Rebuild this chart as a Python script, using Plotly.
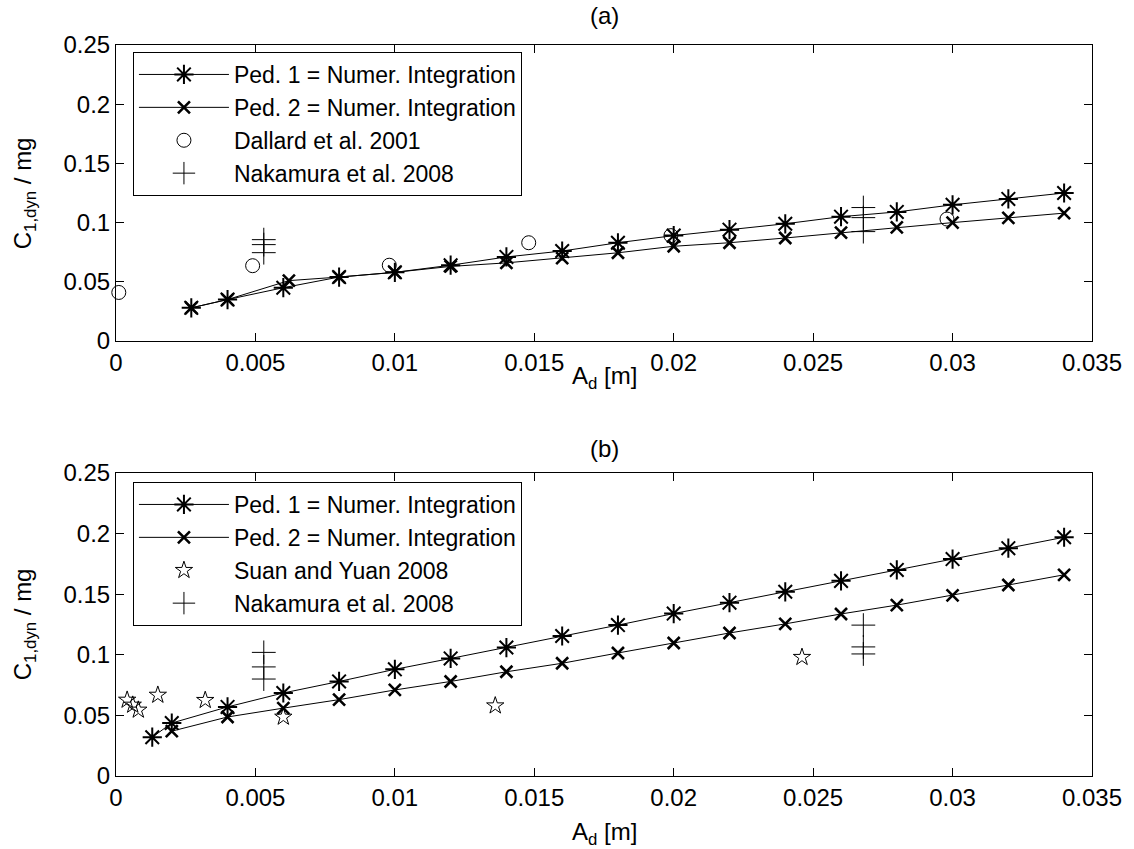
import plotly.graph_objects as go

# ---- panel (a) ----
a_ped1_x = [0.0027, 0.004, 0.006, 0.008, 0.010, 0.012, 0.014, 0.016, 0.018, 0.020,
            0.022, 0.024, 0.026, 0.028, 0.030, 0.032, 0.034]
a_ped1_y = [0.028, 0.035, 0.045, 0.054, 0.058, 0.064, 0.071, 0.076, 0.083, 0.089,
            0.094, 0.099, 0.105, 0.109, 0.115, 0.120, 0.125]
a_ped2_x = [0.0027, 0.004, 0.0062, 0.008, 0.010, 0.012, 0.014, 0.016, 0.018, 0.020,
            0.022, 0.024, 0.026, 0.028, 0.030, 0.032, 0.034]
a_ped2_y = [0.028, 0.035, 0.051, 0.054, 0.058, 0.063, 0.066, 0.070, 0.0745, 0.080,
            0.083, 0.087, 0.0915, 0.096, 0.100, 0.104, 0.108]
dallard_x = [0.0001, 0.0049, 0.0098, 0.0148, 0.0199, 0.0298]
dallard_y = [0.041, 0.0636, 0.064, 0.083, 0.089, 0.103]
a_naka_x = [0.0053, 0.0053, 0.0053, 0.0268, 0.0268, 0.0268]
a_naka_y = [0.0856, 0.0814, 0.0746, 0.1127, 0.1042, 0.0924]

# ---- panel (b) ----
b_ped1_x = [0.0013, 0.002, 0.004, 0.006, 0.008, 0.010, 0.012, 0.014, 0.016, 0.018,
            0.020, 0.022, 0.024, 0.026, 0.028, 0.030, 0.032, 0.034]
b_ped1_y = [0.032, 0.0437, 0.057, 0.0685, 0.078, 0.088, 0.097, 0.106, 0.1155, 0.1245,
            0.134, 0.143, 0.152, 0.161, 0.170, 0.179, 0.188, 0.197]
b_ped2_x = [0.002, 0.004, 0.006, 0.008, 0.010, 0.012, 0.014, 0.016, 0.018,
            0.020, 0.022, 0.024, 0.026, 0.028, 0.030, 0.032, 0.034]
b_ped2_y = [0.037, 0.0487, 0.056, 0.063, 0.071, 0.078, 0.086, 0.093, 0.1015,
            0.1097, 0.118, 0.1255, 0.1337, 0.141, 0.149, 0.1576, 0.166]
suan_x = [0.0004, 0.0006, 0.0008, 0.0015, 0.0032, 0.0060, 0.0136, 0.0246]
suan_y = [0.0627, 0.0586, 0.0545, 0.0668, 0.0625, 0.0487, 0.058, 0.098]
b_naka_x = [0.0053, 0.0053, 0.0053, 0.0268, 0.0268, 0.0268]
b_naka_y = [0.102, 0.090, 0.080, 0.1245, 0.1065, 0.1007]

x_ticks = [0, 0.005, 0.01, 0.015, 0.02, 0.025, 0.03, 0.035]
x_tick_text = ["0", "0.005", "0.01", "0.015", "0.02", "0.025", "0.03", "0.035"]
y_ticks = [0, 0.05, 0.1, 0.15, 0.2, 0.25]
y_tick_text = ["0", "0.05", "0.1", "0.15", "0.2", "0.25"]

FONT = "Liberation Sans, Arial, sans-serif"
FS = 24
LEG_FS = 23
BLACK = "black"

# figure geometry (pixels)
W, H = 1134, 849
ML, MR, MT, MB = 116, 39, 45, 73
PW, PH = W - ML - MR, H - MT - MB


def px_x(p):
    return (p - ML) / PW


def px_y(p):
    return (H - MB - p) / PH


fig = go.Figure()


def ped_trace(x, y, name, symbol, size, width, xa, ya, legend):
    return go.Scatter(
        x=x, y=y, name=name, mode="lines+markers",
        line=dict(color=BLACK, width=1),
        marker=dict(symbol=symbol, size=size, color=BLACK,
                    line=dict(color=BLACK, width=width)),
        xaxis=xa, yaxis=ya, legend=legend, cliponaxis=False)


def point_trace(x, y, name, symbol, size, xa, ya, legend):
    return go.Scatter(
        x=x, y=y, name=name, mode="markers",
        marker=dict(symbol=symbol, size=size, color=BLACK,
                    line=dict(color=BLACK, width=1)),
        xaxis=xa, yaxis=ya, legend=legend, cliponaxis=False)


# panel (a)
fig.add_trace(ped_trace(a_ped1_x, a_ped1_y, "Ped. 1 = Numer. Integration",
                        "asterisk-open", 16, 2, "x", "y", "legend"))
fig.add_trace(ped_trace(a_ped2_x, a_ped2_y, "Ped. 2 = Numer. Integration",
                        "x-thin-open", 12, 2.6, "x", "y", "legend"))
fig.add_trace(point_trace(dallard_x, dallard_y, "Dallard et al. 2001",
                          "circle-open", 14, "x", "y", "legend"))
fig.add_trace(point_trace(a_naka_x, a_naka_y, "Nakamura et al. 2008",
                          "cross-thin-open", 17, "x", "y", "legend"))

# panel (b)
fig.add_trace(ped_trace(b_ped1_x, b_ped1_y, "Ped. 1 = Numer. Integration",
                        "asterisk-open", 16, 2, "x2", "y2", "legend2"))
fig.add_trace(ped_trace(b_ped2_x, b_ped2_y, "Ped. 2 = Numer. Integration",
                        "x-thin-open", 12, 2.6, "x2", "y2", "legend2"))
fig.add_trace(point_trace(suan_x, suan_y, "Suan and Yuan 2008",
                          "star-open", 13, "x2", "y2", "legend2"))
fig.add_trace(point_trace(b_naka_x, b_naka_y, "Nakamura et al. 2008",
                          "cross-thin-open", 17, "x2", "y2", "legend2"))

axis_common = dict(
    showline=True, linecolor=BLACK, linewidth=1, mirror="allticks",
    ticks="inside", ticklen=8, tickcolor=BLACK, tickwidth=1,
    showgrid=False, zeroline=False,
    tickfont=dict(family=FONT, size=FS, color=BLACK),
)

xaxis_common = dict(axis_common, range=[0, 0.035], tickvals=x_ticks,
                    ticktext=x_tick_text)
yaxis_common = dict(axis_common, range=[0, 0.25], tickvals=y_ticks,
                    ticktext=y_tick_text)

legend_common = dict(
    bgcolor="white", bordercolor=BLACK, borderwidth=1,
    font=dict(family=FONT, size=LEG_FS, color=BLACK),
    xref="paper", yref="paper", xanchor="left", yanchor="top",
    itemwidth=90, tracegroupgap=0,
)

txt_font = dict(family=FONT, size=FS, color=BLACK)


def label(text, xp, yp, angle=0):
    return dict(text=text, x=px_x(xp), y=px_y(yp), xref="paper", yref="paper",
                xanchor="center", yanchor="middle", textangle=angle,
                showarrow=False, font=txt_font)


fig.update_layout(
    width=W, height=H,
    margin=dict(l=ML, r=MR, t=MT, b=MB),
    paper_bgcolor="white", plot_bgcolor="white",
    font=txt_font,
    xaxis=dict(xaxis_common, domain=[0, 1], anchor="y"),
    yaxis=dict(yaxis_common, domain=[px_y(341), 1.0], anchor="x"),
    xaxis2=dict(xaxis_common, domain=[0, 1], anchor="y2"),
    yaxis2=dict(yaxis_common, domain=[0.0, px_y(473)], anchor="x2"),
    legend=dict(legend_common, x=px_x(133), y=px_y(52)),
    legend2=dict(legend_common, x=px_x(133), y=px_y(482)),
    showlegend=True,
    annotations=[
        label("(a)", 606, 16),
        label("(b)", 606, 448),
        label("A<sub>d</sub> [m]", 606, 377),
        label("A<sub>d</sub> [m]", 606, 833),
        label("C<sub>1,dyn</sub> / mg", 24, 193, -90),
        label("C<sub>1,dyn</sub> / mg", 24, 624, -90),
    ],
)

fig.write_html("out.html")
